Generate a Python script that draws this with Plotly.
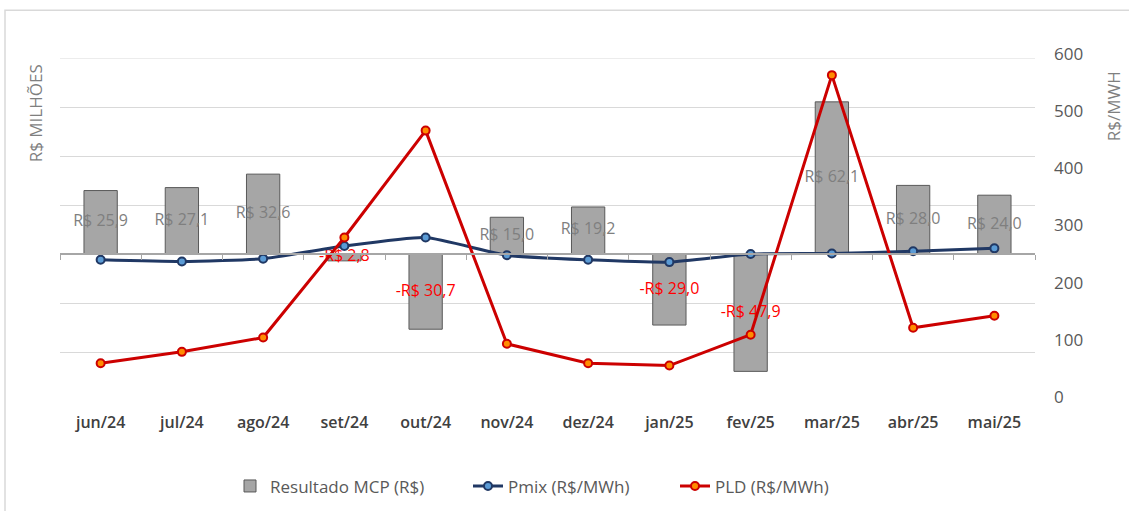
import plotly.graph_objects as go

# data
months = ["jun/24", "jul/24", "ago/24", "set/24", "out/24", "nov/24",
          "dez/24", "jan/25", "fev/25", "mar/25", "abr/25", "mai/25"]
mcp = [25.9, 27.1, 32.6, -2.8, -30.7, 15.0, 19.2, -29.0, -47.9, 62.1, 28.0, 24.0]
pmix = [247, 244, 249, 271, 286, 255, 247, 243, 257, 258, 262, 267]
pld = [66, 86, 111, 286, 473, 100, 66, 62, 116, 570, 128, 149]

labels = [("-" if v < 0 else "") + "R$ " + f"{abs(v):.1f}".replace(".", ",") for v in mcp]
label_colors = ["#ff0000" if v < 0 else "#7f7f7f" for v in mcp]

FONT = "Open Sans"
GRID = "#d9d9d9"

fig = go.Figure()

# bars (left axis)
fig.add_trace(go.Bar(
    x=months, y=mcp, name="Resultado MCP (R$)",
    marker=dict(color="#a6a6a6", line=dict(color="#595959", width=1)),
    width=0.41, xaxis="x", yaxis="y", hoverinfo="skip", legend="legend",
))

# bar value labels, centred in each bar
fig.add_trace(go.Scatter(
    x=months, y=[v / 2 for v in mcp], mode="text", text=labels,
    textposition="middle center",
    textfont=dict(family=FONT, size=16, color=label_colors),
    showlegend=False, hoverinfo="skip", xaxis="x", yaxis="y",
))

# invisible trace so the zero-crossing axis has its categories
fig.add_trace(go.Scatter(
    x=months, y=[0] * len(months), mode="none", showlegend=False,
    hoverinfo="skip", xaxis="x2", yaxis="y",
))

fig.add_trace(go.Scatter(
    x=months, y=pmix, name="Pmix (R$/MWh)", mode="lines+markers",
    line=dict(color="#203864", width=3, shape="spline", smoothing=0.5),
    marker=dict(size=8, color="#5b9bd5", line=dict(color="#203864", width=2)),
    xaxis="x", yaxis="y2", legend="legend2",
))

fig.add_trace(go.Scatter(
    x=months, y=pld, name="PLD (R$/MWh)", mode="lines+markers",
    line=dict(color="#cc0000", width=3),
    marker=dict(size=8, color="#ff8c00", line=dict(color="#cc0000", width=2)),
    xaxis="x", yaxis="y2", legend="legend3",
))

legend_font = dict(family=FONT, size=17, color="#595959")
leg = dict(orientation="h", y=-0.249, xanchor="left", yanchor="middle",
           font=legend_font, bgcolor="rgba(0,0,0,0)")

fig.update_layout(
    width=1129, height=511,
    margin=dict(l=60, r=94, t=58, b=110, autoexpand=False),
    paper_bgcolor="white", plot_bgcolor="white",
    font=dict(family=FONT, color="#595959"),
    xaxis=dict(
        type="category", categoryorder="array", categoryarray=months,
        range=[-0.5, 11.5], showgrid=False, showline=False, zeroline=False,
        ticks="", ticklabelstandoff=10,
        tickfont=dict(family=FONT, size=16, color="#404040", weight=600),
    ),
    xaxis2=dict(
        type="category", categoryorder="array", categoryarray=months,
        range=[-0.5, 11.5], overlaying="x", anchor="free",
        position=60 / 140, showline=True, linecolor="#a6a6a6", linewidth=1.5,
        ticks="outside", tickson="boundaries", ticklen=5, tickcolor="#a6a6a6",
        showticklabels=False, showgrid=False, zeroline=False,
    ),
    yaxis=dict(
        range=[-60, 80], dtick=20, showticklabels=False,
        showgrid=True, gridcolor=GRID, gridwidth=1, zeroline=False,
    ),
    yaxis2=dict(
        range=[0, 600], dtick=100, overlaying="y", side="right",
        showgrid=False, zeroline=False, ticks="", ticklabelstandoff=18,
        ticklabelshift=-4,
        tickfont=dict(family=FONT, size=17, color="#595959"),
    ),
    legend=dict(leg, x=(230 - 60) / 975),
    legend2=dict(leg, x=(468 - 60) / 975),
    legend3=dict(leg, x=(675 - 60) / 975),
    annotations=[
        dict(text="R$ MILHÕES", textangle=-90, xref="paper", yref="paper",
             x=(35 - 60) / 975, y=(400.7 - 113) / 343, showarrow=False,
             xanchor="center", yanchor="middle",
             font=dict(family=FONT, size=17, color="#7f7f7f")),
        dict(text="R$/MWH", textangle=-90, xref="paper", yref="paper",
             x=(1113 - 60) / 975, y=(400.7 - 106) / 343, showarrow=False,
             xanchor="center", yanchor="middle",
             font=dict(family=FONT, size=17, color="#7f7f7f")),
    ],
    shapes=[
        dict(type="rect", xref="paper", yref="paper",
             x0=(5 - 60) / 975, x1=1.12, y0=-0.4, y1=(400.7 - 10) / 343,
             line=dict(color=GRID, width=1.5), layer="below"),
        # top gridline, at the edge of the plot area
        dict(type="line", xref="paper", yref="y", x0=0, x1=1, y0=80, y1=80,
             line=dict(color=GRID, width=1), layer="below"),
    ],
)

fig.write_html("out.html", config={"displayModeBar": False},
               post_script="document.body.style.margin='0';")
